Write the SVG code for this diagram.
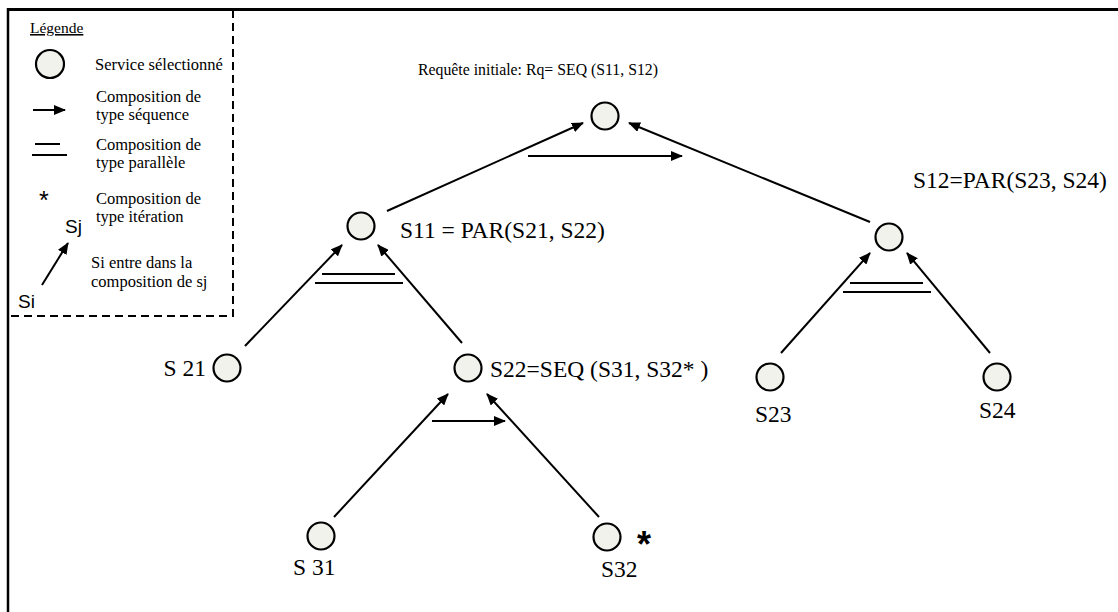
<svg xmlns="http://www.w3.org/2000/svg" width="1118" height="612" viewBox="0 0 1118 612">
<style>
.node{fill:#f2f2ec;stroke:#000;stroke-width:2.2}
.lbl{font-family:"Liberation Serif","Times New Roman",serif;font-size:23.5px;fill:#000}
.title{font-family:"Liberation Serif","Times New Roman",serif;font-size:17.5px;fill:#000}
.leg{font-family:"Liberation Serif","Times New Roman",serif;font-size:16.5px;fill:#000}
.sans{font-family:"Liberation Sans",Arial,sans-serif;fill:#000}
.edge{stroke:#000;stroke-width:2;fill:none;marker-end:url(#ah)}
.bar{stroke:#000;stroke-width:2;fill:none}
</style>
<defs>
<marker id="ah" viewBox="0 0 12 10" refX="11" refY="5" markerWidth="12" markerHeight="10" markerUnits="userSpaceOnUse" orient="auto">
<path d="M0,0 L12,5 L0,10 z" fill="#000"/>
</marker>
</defs>
<rect width="1118" height="612" fill="#fff"/>
<g id="frame">
<line x1="8" y1="9.5" x2="1118" y2="9.5" stroke="#000" stroke-width="3"/>
<line x1="8" y1="8" x2="8" y2="612" stroke="#000" stroke-width="2.5"/>
</g>
<g id="legend">
<path d="M233,10 V316 H8" stroke="#000" stroke-width="2" stroke-dasharray="8,5" fill="none"/>
<text class="leg" x="30" y="33" style="font-size:15.5px" text-decoration="underline">Légende</text>
<circle class="node" cx="50" cy="64" r="14"/>
<text class="leg" x="95" y="70">Service sélectionné</text>
<line class="edge" x1="33" y1="110" x2="65" y2="110"/>
<text class="leg" x="96" y="102">Composition de</text>
<text class="leg" x="96" y="120">type séquence</text>
<line class="bar" x1="35" y1="144" x2="60" y2="144"/>
<line class="bar" x1="32" y1="155" x2="67" y2="155"/>
<text class="leg" x="96" y="150">Composition de</text>
<text class="leg" x="96" y="168">type parallèle</text>
<text class="sans" x="39" y="209" style="font-size:25px">*</text>
<text class="leg" x="96" y="204">Composition de</text>
<text class="leg" x="96" y="222">type itération</text>
<text class="sans" x="65" y="233" style="font-size:19px">Sj</text>
<line class="edge" x1="42" y1="285" x2="68" y2="243"/>
<text class="sans" x="18" y="308" style="font-size:19px">Si</text>
<text class="leg" x="91" y="268">Si entre dans la</text>
<text class="leg" x="91" y="287">composition de sj</text>
</g>
<g id="connectors">
<line class="edge" x1="387" y1="211" x2="583" y2="123"/>
<line class="edge" x1="870" y1="222" x2="629" y2="123"/>
<line class="edge" x1="528" y1="156" x2="682" y2="156"/>
<line class="edge" x1="245" y1="346" x2="342" y2="245"/>
<line class="edge" x1="462" y1="343" x2="378" y2="245"/>
<line class="bar" x1="322" y1="274" x2="395" y2="274"/>
<line class="bar" x1="315" y1="283" x2="403" y2="283"/>
<line class="edge" x1="334" y1="517" x2="448" y2="394"/>
<line class="edge" x1="599" y1="517" x2="487" y2="394"/>
<line class="edge" x1="432" y1="421" x2="505" y2="421"/>
<line class="edge" x1="781" y1="353" x2="870" y2="253"/>
<line class="edge" x1="990" y1="353" x2="907" y2="253"/>
<line class="bar" x1="850" y1="283" x2="923" y2="283"/>
<line class="bar" x1="843" y1="292" x2="931" y2="292"/>
</g>
<g id="root">
<circle class="node" cx="605" cy="116" r="13.5"/>
<text class="title" x="418" y="75" textLength="240" lengthAdjust="spacingAndGlyphs">Requête initiale: Rq= SEQ (S11, S12)</text>
</g>
<g id="S11">
<circle class="node" cx="361" cy="226" r="13.5"/>
<text class="lbl" x="400" y="238">S11 = PAR(S21, S22)</text>
</g>
<g id="S12">
<circle class="node" cx="889" cy="237" r="13.5"/>
<text class="lbl" x="913" y="188">S12=PAR(S23, S24)</text>
</g>
<g id="S21">
<circle class="node" cx="227" cy="368" r="13.5"/>
<text class="lbl" x="206" y="376" text-anchor="end">S 21</text>
</g>
<g id="S22">
<circle class="node" cx="468" cy="368" r="13.5"/>
<text class="lbl" x="490" y="377">S22=SEQ (S31, S32* )</text>
</g>
<g id="S23">
<circle class="node" cx="770" cy="377" r="13.5"/>
<text class="lbl" x="755" y="422">S23</text>
</g>
<g id="S24">
<circle class="node" cx="997" cy="377" r="13.5"/>
<text class="lbl" x="979" y="418">S24</text>
</g>
<g id="S31">
<circle class="node" cx="321" cy="536" r="13.5"/>
<text class="lbl" x="293" y="575">S 31</text>
</g>
<g id="S32">
<circle class="node" cx="607" cy="537" r="13.5"/>
<text class="lbl" x="601" y="577">S32</text>
<text class="sans" x="637" y="557" style="font-size:36px;font-weight:bold">*</text>
</g>
</svg>
